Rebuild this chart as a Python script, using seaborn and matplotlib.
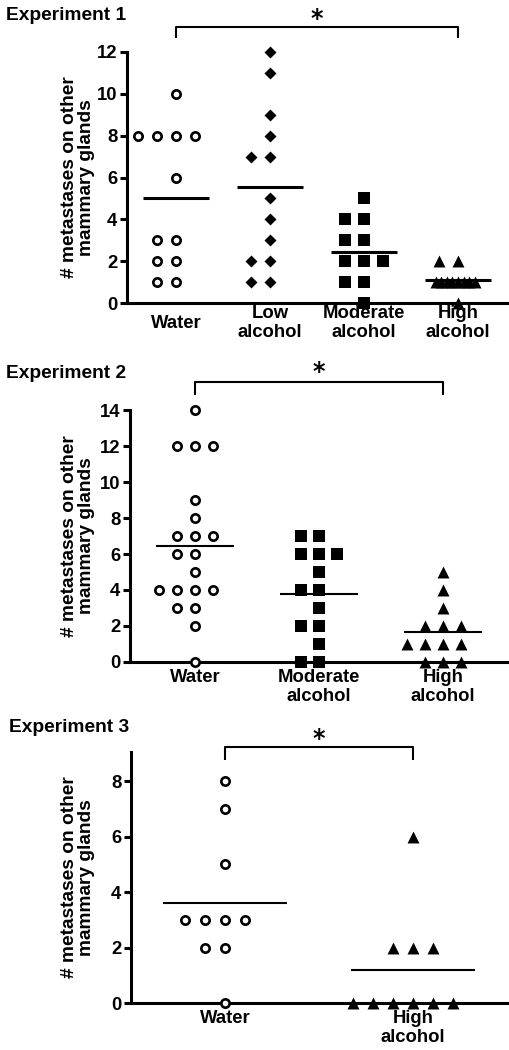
import numpy as np
import pandas as pd
import matplotlib
matplotlib.use("Agg")
import matplotlib.pyplot as plt
import matplotlib.transforms as mtransforms
import seaborn as sns

W, H, DPI = 510, 1050, 100

# ---------------- data ----------------
exp1_groups = ["Water", "Low\nalcohol", "Moderate\nalcohol", "High\nalcohol"]
exp1_water = [10, 8, 8, 8, 8, 6, 3, 3, 2, 2, 1, 1]
exp1_low = [12, 11, 9, 8, 7, 7, 5, 4, 3, 2, 2, 1, 1]
exp1_moderate = [5, 4, 4, 3, 3, 2, 2, 2, 1, 1, 0]
exp1_high = [2, 2, 1, 1, 1, 1, 1, 1, 1, 1, 0]

exp2_groups = ["Water", "Moderate\nalcohol", "High\nalcohol"]
exp2_water = [14, 12, 12, 12, 9, 8, 7, 7, 7, 6, 6, 5, 4, 4, 4, 4, 3, 3, 2, 0]
exp2_moderate = [7, 7, 6, 6, 6, 5, 4, 4, 3, 2, 2, 1, 0, 0]
exp2_high = [5, 4, 3, 2, 2, 2, 1, 1, 1, 1, 0, 0, 0]

exp3_groups = ["Water", "High\nalcohol"]
exp3_water = [8, 7, 5, 3, 3, 3, 3, 2, 2, 0]
exp3_high = [6, 2, 2, 2, 0, 0, 0, 0, 0, 0]

titles = ["Experiment 1", "Experiment 2", "Experiment 3"]
y_label = "# metastases on other\nmammary glands"
exp1_yticks = [0, 2, 4, 6, 8, 10, 12]
exp2_yticks = [0, 2, 4, 6, 8, 10, 12, 14]
exp3_yticks = [0, 2, 4, 6, 8]
sig_mark = "*"

# ---------------- style ----------------
sns.set_theme(style="ticks")
plt.rcParams.update({
    "font.family": ["Liberation Sans", "DejaVu Sans"],
    "font.weight": "bold",
    "axes.labelweight": "bold",
    "axes.edgecolor": "black",
    "axes.linewidth": 2.2,
    "xtick.color": "black",
    "ytick.color": "black",
    "text.color": "black",
    "axes.labelcolor": "black",
})

STYLES = {
    "water": dict(marker="o", color="white", lw=1.9, size=6.0),
    "low": dict(marker="D", color="black", lw=0.0, size=6.1),
    "moderate": dict(marker="s", color="black", lw=0.0, size=8.3),
    "high": dict(marker="^", color="black", lw=0.0, size=8.6),
}

fig = plt.figure(figsize=(W / DPI, H / DPI), dpi=DPI)
fig.patch.set_facecolor("white")


def px_axes(left, top, right, bottom):
    return fig.add_axes([left / W, 1 - bottom / H, (right - left) / W, (bottom - top) / H])


pending = []


def swarm(ax, label, values, order, style, spacing_px, cat_px):
    vals = np.asarray(values, float)
    uniq, counts = np.unique(vals, return_counts=True)
    crowded = [u for u, c in zip(uniq, counts) if c * spacing_px > 0.9 * cat_px]
    subsets = []
    normal = vals[~np.isin(vals, crowded)]
    if normal.size:
        subsets.append((normal, spacing_px))
    for v in crowded:
        c = int(np.sum(vals == v))
        subsets.append((vals[vals == v], 0.45 * cat_px / c))
    for sub, sp in subsets:
        df = pd.DataFrame({"group": [label] * len(sub), "value": sub})
        n0 = len(ax.collections)
        sns.swarmplot(data=df, x="group", y="value", order=order, ax=ax,
                      marker=style["marker"], color=style["color"],
                      edgecolor="black", linewidth=style["lw"],
                      size=max(sp * 72 / DPI - style["lw"], 0.5), zorder=3)
        for coll in ax.collections[n0:]:
            coll.set_clip_on(False)
            pending.append((coll, style["size"]))


def mean_lines(ax, groups, order, width, lw):
    df = pd.DataFrame({
        "group": np.repeat(np.array(order), [len(g) for g in groups]),
        "value": np.concatenate([np.asarray(g, float) for g in groups]),
    })
    sns.boxplot(data=df, x="group", y="value", order=order, ax=ax, width=width,
                showmeans=True, meanline=True, showbox=False, showcaps=False,
                showfliers=False,
                meanprops=dict(color="black", linestyle="-", linewidth=lw),
                whiskerprops=dict(visible=False), medianprops=dict(visible=False))


def bracket(ax, i0, i1, y_top, y_drop, y_star):
    tr = mtransforms.blended_transform_factory(ax.transData, ax.transAxes)
    ax.plot([i0, i0, i1, i1], [y_drop, y_top, y_top, y_drop], transform=tr,
            color="black", lw=1.5, clip_on=False, solid_capstyle="butt")
    ax.text((i0 + i1) / 2, y_star, sig_mark, transform=tr, ha="center", va="center",
            fontsize=17, fontweight="bold", family="DejaVu Sans")


panels = [
    dict(rect=(127, 52, 510, 303), groups=exp1_groups,
         data=[exp1_water, exp1_low, exp1_moderate, exp1_high],
         styles=["water", "low", "moderate", "high"],
         ylim=(0, 12), yticks=exp1_yticks, xlim=(-0.521, 3.553),
         spacing=18.5, cat_px=94, mw=0.70, mlw=2.2,
         br=(1.0996, 1.056, 1.131), title_xy=(6, 16), xva="center", xpad=14.5),
    dict(rect=(130, 410, 510, 662), groups=exp2_groups,
         data=[exp2_water, exp2_moderate, exp2_high],
         styles=["water", "moderate", "high"],
         ylim=(0, 14), yticks=exp2_yticks, xlim=(-0.524, 2.54),
         spacing=17, cat_px=124, mw=0.63, mlw=1.5,
         br=(1.111, 1.06, 1.151), title_xy=(6, 373), xva="top", xpad=5),
    dict(rect=(131, 752, 510, 1003), groups=exp3_groups,
         data=[exp3_water, exp3_high],
         styles=["water", "high"],
         ylim=(0, 9.05), yticks=exp3_yticks, xlim=(-0.5, 1.516),
         spacing=19, cat_px=188, mw=0.66, mlw=1.5,
         br=(1.02, 0.968, 1.052), title_xy=(9, 727), xva="top", xpad=5),
]

for title, p in zip(titles, panels):
    ax = px_axes(*p["rect"])
    ax.set_facecolor("white")
    order = p["groups"]
    for label, vals, st in zip(order, p["data"], p["styles"]):
        swarm(ax, label, vals, order, STYLES[st], p["spacing"], p["cat_px"])
    mean_lines(ax, p["data"], order, p["mw"], p["mlw"])

    ax.set_xlim(*p["xlim"])
    ax.set_ylim(*p["ylim"])
    ax.set_yticks(p["yticks"])
    ax.set_xticks(range(len(order)))
    ax.set_xticklabels(order, fontsize=13.3, fontweight="bold", linespacing=1.12)
    for t in ax.get_xticklabels():
        t.set_verticalalignment(p["xva"])
    ax.set_yticklabels([str(v) for v in p["yticks"]], fontsize=13.3, fontweight="bold")
    ax.tick_params(axis="y", length=5, width=2.2, pad=2)
    ax.tick_params(axis="x", length=0, pad=p["xpad"])
    sns.despine(ax=ax)
    for s in ("left", "bottom"):
        ax.spines[s].set_linewidth(2.2)
    ax.set_xlabel("")
    ax.set_ylabel(y_label, fontsize=13.8, fontweight="bold", linespacing=1.0)
    l, t_, r, b = p["rect"]
    ax.yaxis.set_label_coords((95 - l) / (r - l), 0.5)

    bracket(ax, 0, len(order) - 1, *p["br"])
    fig.text(p["title_xy"][0] / W, 1 - p["title_xy"][1] / H, title,
             ha="left", va="center", fontsize=13.8, fontweight="bold")

# compute swarm positions once, then freeze them and show the final marker size
fig.canvas.draw()
for coll, size in pending:
    coll.__dict__.pop("draw", None)
    coll.set_sizes([size ** 2])

fig.savefig("out.png", dpi=DPI, facecolor="white")
